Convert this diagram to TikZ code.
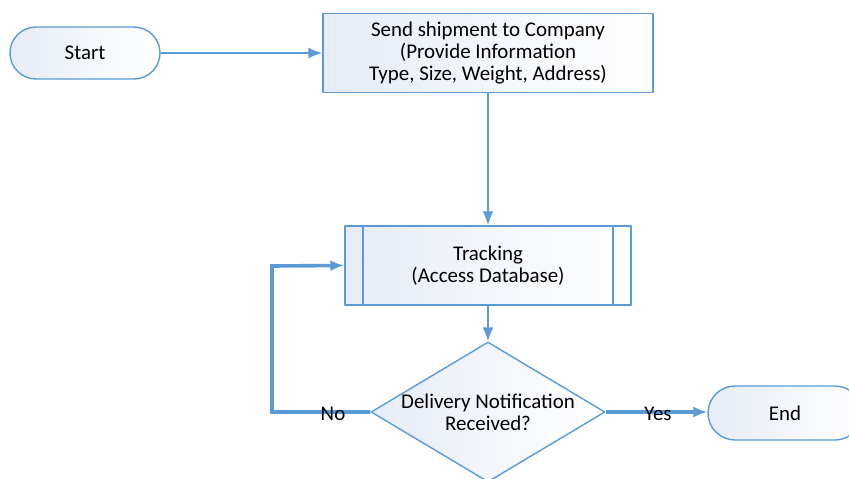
\documentclass[tikz,border=0pt]{standalone}
\usepackage{fontspec}
\setmainfont{Carlito}
\usetikzlibrary{shapes.geometric,shapes.misc,arrows.meta}
\definecolor{flowblue}{HTML}{5B9BD5}
\definecolor{flowfill}{HTML}{E6ECF6}
\begin{document}
\begin{tikzpicture}[>={Latex[length=14bp,width=11bp]},line join=bevel,
  font=\fontsize{21}{22}\selectfont,
  box/.style={draw=flowblue,line width=1.4bp,left color=flowfill,right color=white,align=center,inner sep=0pt},
  terminal/.style={box,rounded rectangle,minimum height=52bp},
  process/.style={box,rectangle,minimum width=330bp,minimum height=79bp},
  subprocess/.style={box,rectangle,minimum width=286bp,minimum height=79bp,
    path picture={\draw[flowblue,line width=1.4bp]
      ([xshift=18bp]path picture bounding box.north west) -- ([xshift=18bp]path picture bounding box.south west)
      ([xshift=-18bp]path picture bounding box.north east) -- ([xshift=-18bp]path picture bounding box.south east);}},
  decision/.style={box,diamond,aspect=1.67,inner xsep=-8bp,minimum width=234bp,minimum height=140bp},
  flow/.style={draw=flowblue,line width=1.8bp,->},
  loop/.style={draw=flowblue,line width=3.6bp,line join=miter,->},
]
\useasboundingbox (0,0) rectangle (849bp,-479bp);
\clip (0,0) rectangle (849bp,-479bp);
%%
\node (node_0) at (85bp,-53bp) [terminal,minimum width=150bp] {Start};
  \node (node_1) at (488bp,-53bp) [process] {Send shipment to Company\\(Provide Information\\Type, Size, Weight, Address)};
  \node (node_2) at (488bp,-265.5bp) [subprocess] {Tracking\\(Access Database)};
  \node (node_3) at (488bp,-412bp) [decision] {Delivery Notification\\Received?};
  \node (node_4) at (785bp,-413bp) [terminal,minimum width=154bp,minimum height=54bp] {End};
  \coordinate (bend) at (272bp,-266bp);
  \draw [flow] (node_0) -- (node_1);
  \draw [flow] (node_1) -- (node_2);
  \draw [flow] (node_2) -- (node_3);
  \draw [loop] (node_3.west) -| (bend) -- (node_2.west);
  \draw [loop] (node_3.east) -- (node_4.west |- node_3.east);
  \node (label_no) at (333bp,-414bp) [draw=none] {No};
  \node (label_yes) at (658bp,-414bp) [draw=none] {Yes};
%
\end{tikzpicture}
\end{document}
